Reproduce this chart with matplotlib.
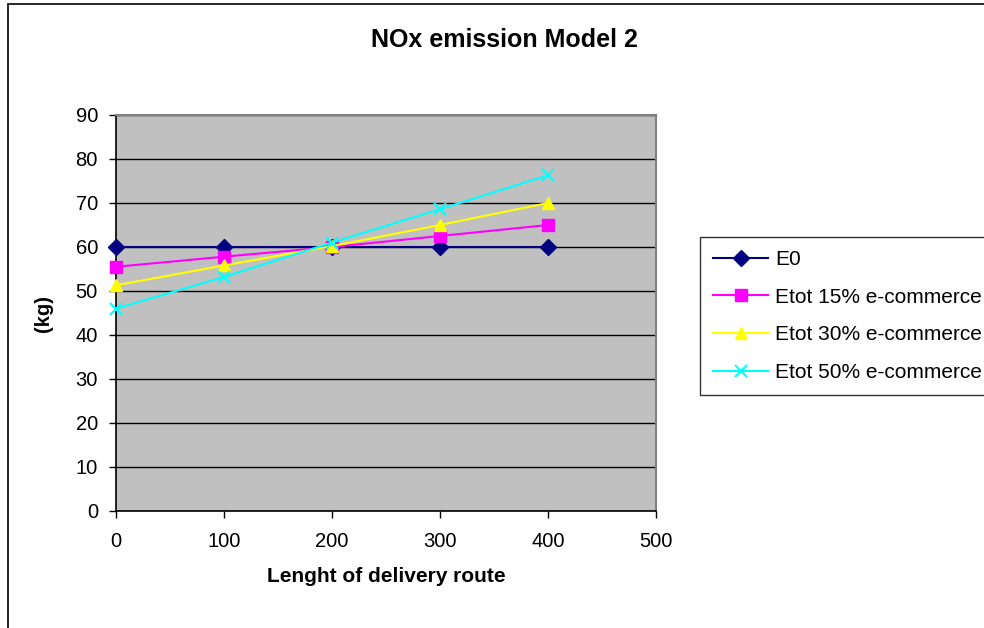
import matplotlib
matplotlib.use("Agg")
import matplotlib.pyplot as plt
from matplotlib.patches import Rectangle

plt.rcParams['font.family'] = ['Liberation Sans', 'DejaVu Sans']

# data
route_length = [0, 100, 200, 300, 400]
e0 = [60, 60, 60, 60, 60]
etot_15 = [55.5, 57.8, 60, 62.5, 65]
etot_30 = [51.3, 55.8, 60.2, 65, 70]
etot_50 = [46, 53.2, 61, 68.6, 76.3]

series = [
    ('E0', e0, '#000080', 'D', 8),
    ('Etot 15% e-commerce', etot_15, '#ff00ff', 's', 9),
    ('Etot 30% e-commerce', etot_30, '#ffff00', '^', 9),
    ('Etot 50% e-commerce', etot_50, '#00ffff', 'x', 9),
]

fig = plt.figure(figsize=(9.84, 6.28), dpi=100)
ax = fig.add_axes([116 / 984, 1 - 511 / 628, 540 / 984, 396 / 628])
ax.set_facecolor('#c0c0c0')

for name, vals, col, mk, ms in series:
    ax.plot(route_length, vals, color=col, marker=mk, markersize=ms,
            linewidth=1.5, markeredgewidth=1.5 if mk == 'x' else 1,
            label=name, clip_on=False, zorder=3)

ax.set_xlim(0, 500)
ax.set_ylim(0, 90)
ax.set_xticks(range(0, 501, 100))
ax.set_yticks(range(0, 91, 10))
ax.yaxis.grid(True, color='black', linewidth=1)
ax.set_axisbelow(True)
ax.tick_params(labelsize=14.5, direction='out', length=5, width=1, pad=8)
ax.tick_params(axis='x', pad=10)
for side in ['top', 'right']:
    ax.spines[side].set_color('#808080')
    ax.spines[side].set_linewidth(1.5)
for side in ['left', 'bottom']:
    ax.spines[side].set_color('black')
    ax.spines[side].set_linewidth(1.2)

ax.set_xlabel('Lenght of delivery route', fontsize=15, fontweight='bold', labelpad=12)
ax.set_ylabel('(kg)', fontsize=14.5, fontweight='bold', labelpad=16)
fig.text(504 / 984, 1 - 40 / 628, 'NOx emission Model 2', fontsize=18,
         fontweight='bold', ha='center', va='center')

leg = fig.legend(loc='upper left', bbox_to_anchor=(700 / 984, 1 - 237 / 628),
                 fontsize=15, frameon=True, fancybox=False, edgecolor='black',
                 borderpad=0.62, labelspacing=0.9, handlelength=2.65,
                 handletextpad=0.33, borderaxespad=0)
leg.get_frame().set_linewidth(1)

# outer chart border
fig.patches.append(Rectangle((8 / 984, -0.01), 1.02, 1 - 4 / 628 + 0.01,
                             transform=fig.transFigure, fill=False,
                             edgecolor='black', linewidth=1.2))

fig.savefig('out.png', dpi=100)
